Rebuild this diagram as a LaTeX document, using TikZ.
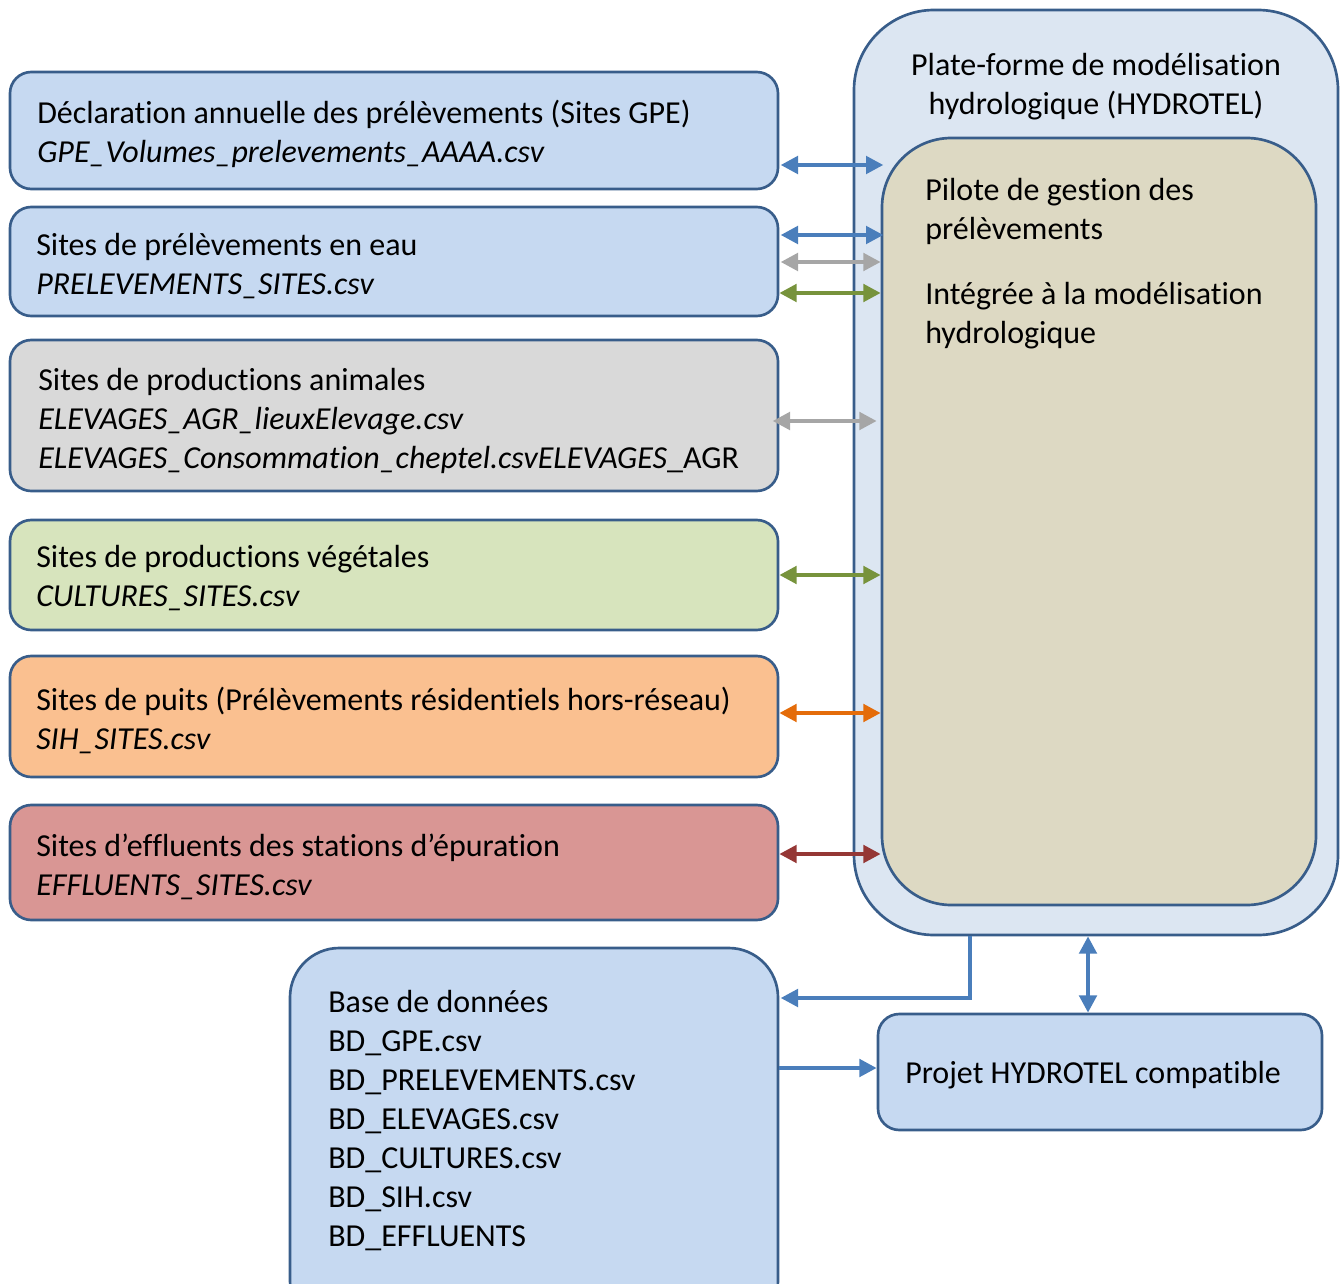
\documentclass[tikz,border=0pt]{standalone}
\usepackage{fontspec}
\setmainfont[Ligatures=NoCommon,Contextuals=NoAlternate]{Carlito}
\usetikzlibrary{arrows.meta}
\newcommand\nolig{\kern0pt }
\definecolor{bord}{HTML}{385D8A}
\definecolor{fblue}{HTML}{C6D9F1}
\definecolor{fplat}{HTML}{DCE6F2}
\definecolor{ftan}{HTML}{DDD9C3}
\definecolor{fgray}{HTML}{D9D9D9}
\definecolor{fgreen}{HTML}{D7E4BD}
\definecolor{forange}{HTML}{FAC090}
\definecolor{fred}{HTML}{D99694}
\definecolor{ablue}{HTML}{4A7EBB}
\definecolor{agray}{HTML}{A6A6A6}
\definecolor{agreen}{HTML}{77933C}
\definecolor{aorange}{HTML}{E46C0A}
\definecolor{ared}{HTML}{953735}
\begin{document}
\begin{tikzpicture}[x=0.75pt,y=-0.75pt,
  box/.style={draw=bord,line width=2pt,rounded corners=16pt,minimum width=576pt,inner sep=0pt},
  txt/.style={anchor=west,align=left,inner sep=0pt,font=\fontsize{24pt}{29.25pt}\selectfont},
  conn/.style={line width=3pt,{Triangle[length=13pt,width=13pt]}-{Triangle[length=13pt,width=13pt]}},
  conn1/.style={line width=3pt,-{Triangle[length=13pt,width=13pt]}}]
\useasboundingbox (0,0) rectangle (1343,1284);
% platform
\node[draw=bord,line width=2pt,fill=fplat,rounded corners=60pt,minimum width=363pt,minimum height=693.75pt,inner sep=0pt] (plat) at (1096,472.5) {};
\node[draw=bord,line width=2pt,fill=ftan,rounded corners=52pt,minimum width=325.5pt,minimum height=575.25pt,inner sep=0pt] (pilot) at (1099,521.5) {};
\node[txt,anchor=center,align=center] (plattxt) at (1096,86.5) {Plate-forme de modélisat\nolig ion\\hydrologique (HYDROTEL)};
\node[txt,anchor=north west] (pilottxt) at (925,178) {Pilote de gestion des\\prélèvements\\[19.5pt]Intégrée à la modélisat\nolig ion\\hydrologique};
% left boxes
\node[box,fill=fblue,minimum height=87.75pt] (b1) at (394,130.5) {};
\node[txt] (t1) at (37,134) {Déclaration annuelle des prélèvements (Sites GPE)\\\textit{GPE\_Volumes\_prelevements\_AAAA.csv}};
\node[box,fill=fblue,minimum height=81.75pt] (b2) at (394,261.5) {};
\node[txt] (t2) at (36,266) {Sites de prélèvements en eau\\\textit{PRELEVEMENTS\_SITES.csv}};
\node[box,fill=fgray,minimum height=113.25pt] (b3) at (394,415.5) {};
\node[txt] (t3) at (38,420.5) {Sites de product\nolig ions animales\\\textit{ELEVAGES\_AGR\_lieuxElevage.csv}\\\textit{ELEVAGES\_Consommation\_cheptel.csvELEVAGES}\_AGR};
\node[box,fill=fgreen,minimum height=82.5pt] (b4) at (394,575) {};
\node[txt] (t4) at (36,578) {Sites de product\nolig ions végétales\\\textit{CULTURES\_SITES.csv}};
\node[box,fill=forange,minimum height=90.75pt] (b5) at (394,716.5) {};
\node[txt] (t5) at (36,720) {Sites de puits (Prélèvements résident\nolig iels hors-réseau)\\\textit{SIH\_SITES.csv}};
\node[box,fill=fred,minimum height=86.25pt] (b6) at (394,862.5) {};
\node[txt] (t6) at (36,866.5) {Sites d’ef\nolig f\nolig luents des stat\nolig ions d’épurat\nolig ion\\\textit{EFFLUENTS\_SITES.csv}};
% bottom boxes
\node[draw=bord,line width=2pt,fill=fblue,rounded corners=37pt,minimum width=366pt,minimum height=286.5pt,inner sep=0pt] (bd) at (534,1139) {};
\node[txt] (tbd) at (328,1120.5) {Base de données\\BD\_GPE.csv\\BD\_PRELEVEMENTS.csv\\BD\_ELEVAGES.csv\\BD\_CULTURES.csv\\BD\_SIH.csv\\BD\_EFFLUENTS};
\node[box,fill=fblue,minimum width=333pt,minimum height=87pt] (proj) at (1100,1072) {};
\node[txt] (tproj) at (905,1075.5) {Projet HYDROTEL compatible};
% level coordinates
\coordinate (y1) at (0,165);
\coordinate (y2) at (0,235);
\coordinate (y3) at (0,262);
\coordinate (y4) at (0,293);
\coordinate (y5) at (0,421);
\coordinate (y6) at (0,575);
\coordinate (y7) at (0,713);
\coordinate (y8) at (0,854);
\coordinate (y9) at (0,998);
\coordinate (y10) at (0,1068);
\coordinate (x1) at (970,0);
\coordinate (x2) at (1088,0);
% connectors
\draw[conn,ablue] ([xshift=1pt]b1.east |- y1) -- ([xshift=2pt]pilot.west |- y1);
\draw[conn,ablue] ([xshift=1pt]b2.east |- y2) -- ([xshift=2pt]pilot.west |- y2);
\draw[conn,agray] ([xshift=1pt]b2.east |- y3) -- (pilot.west |- y3);
\draw[conn,agreen] (b2.east |- y4) -- (pilot.west |- y4);
\draw[conn,agray] ([xshift=-5pt]b3.east |- y5) -- ([xshift=-3pt]pilot.west |- y5);
\draw[conn,agreen] (b4.east |- y6) -- (pilot.west |- y6);
\draw[conn,aorange] (b5.east |- y7) -- (pilot.west |- y7);
\draw[conn,ared] (b6.east |- y8) -- (pilot.west |- y8);
\draw[conn1,ablue] (plat.south -| x1) |- ([xshift=1pt]bd.east |- y9);
\draw[conn,ablue] (plat.south -| x2) -- (proj.north -| x2);
\draw[conn1,ablue] (bd.east |- y10) -- (proj.west |- y10);
\end{tikzpicture}
\end{document}
